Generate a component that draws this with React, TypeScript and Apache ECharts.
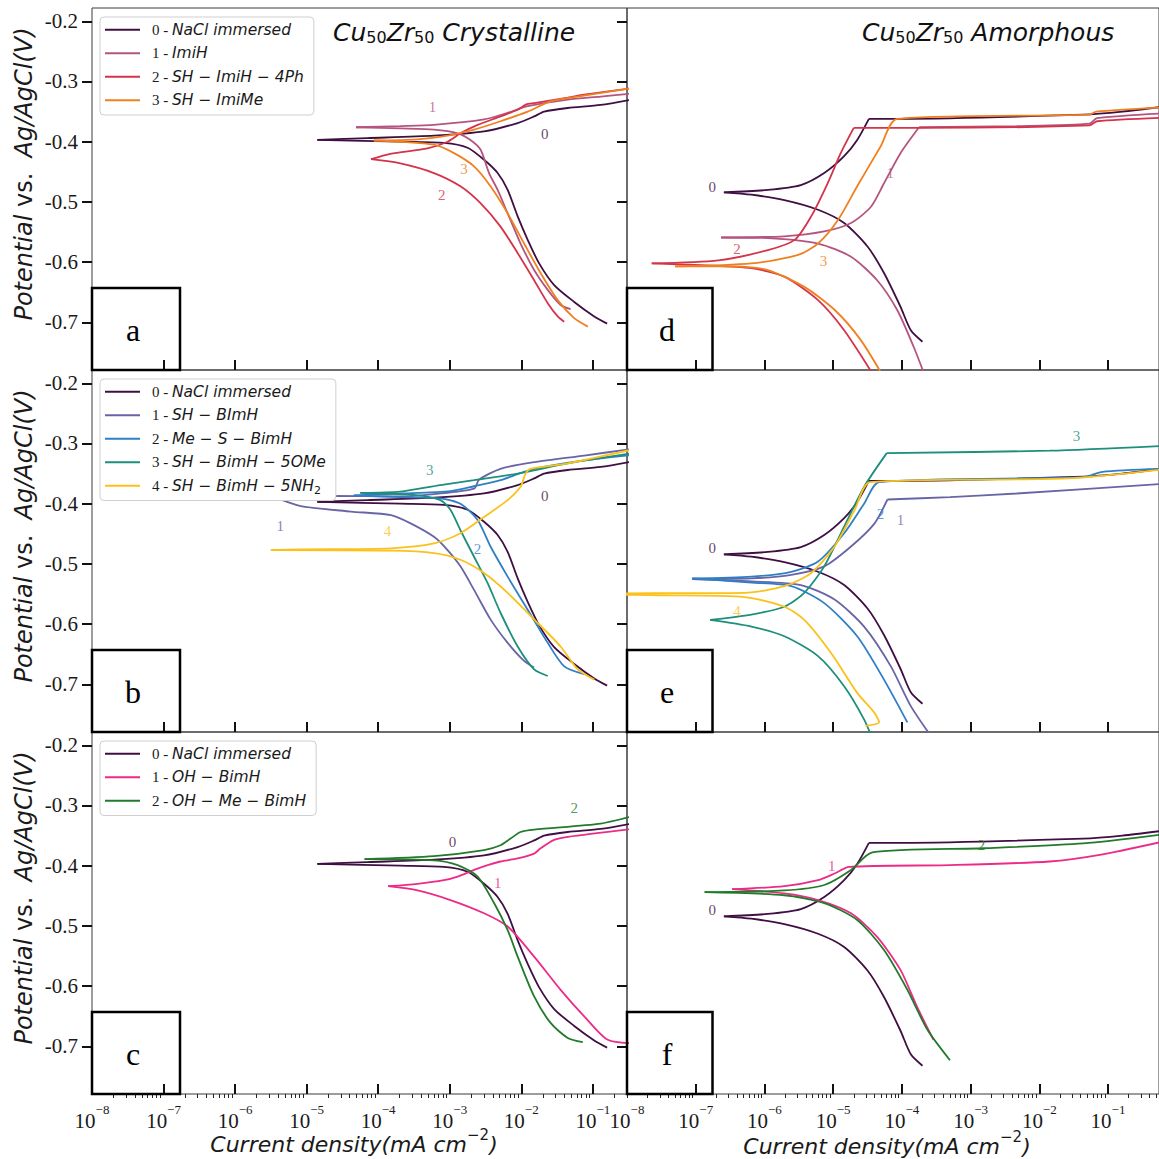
import React, { useEffect, useRef } from "react";
import * as echarts from "echarts";

// Each curve: [log10(current density / mA cm^-2), potential vs Ag/AgCl (V)],
// ordered from the cathodic end, through Ecorr (lowest current), to the anodic end.

// ---- Panel a (crystalline) ----
const naclLeft = [
  [-0.8, -0.702], [-0.98, -0.69], [-1.26, -0.666], [-1.54, -0.638], [-1.75, -0.602], [-1.91, -0.563],
  [-2.05, -0.524], [-2.19, -0.48], [-2.33, -0.452], [-2.52, -0.43], [-2.75, -0.41], [-3.08, -0.402],
  [-3.69, -0.4], [-4.85, -0.397],
  [-4.15, -0.394], [-3.22, -0.39], [-2.52, -0.383], [-2.05, -0.369], [-1.82, -0.358], [-1.68, -0.35],
  [-1.35, -0.344], [-0.89, -0.339], [-0.45, -0.33],
];
const imihLeft = [
  [-1.31, -0.678], [-1.45, -0.671], [-1.63, -0.646], [-1.82, -0.613], [-2.01, -0.569], [-2.19, -0.519],
  [-2.33, -0.48], [-2.45, -0.452], [-2.57, -0.413], [-2.71, -0.397], [-2.89, -0.386], [-3.22, -0.38],
  [-3.69, -0.378], [-4.31, -0.376],
  [-3.69, -0.374], [-3.22, -0.372], [-2.52, -0.363], [-2.19, -0.352], [-1.91, -0.341], [-1.35, -0.33],
  [-0.89, -0.325], [-0.45, -0.32],
];
const sh4phLeft = [
  [-1.4, -0.699], [-1.49, -0.69], [-1.63, -0.668], [-1.82, -0.63], [-2.05, -0.585], [-2.29, -0.541],
  [-2.57, -0.502], [-2.85, -0.474], [-3.22, -0.452], [-3.69, -0.436], [-4.1, -0.429],
  [-3.83, -0.42], [-3.31, -0.411], [-3.03, -0.4], [-2.85, -0.386], [-2.61, -0.372], [-2.29, -0.358],
  [-2.05, -0.347], [-1.93, -0.338], [-1.82, -0.336], [-1.35, -0.327], [-1.12, -0.322], [-0.45, -0.311],
];
const imimeLeft = [
  [-1.07, -0.707], [-1.26, -0.693], [-1.49, -0.663], [-1.73, -0.618], [-1.96, -0.569], [-2.19, -0.519],
  [-2.43, -0.474], [-2.66, -0.441], [-2.94, -0.419], [-3.22, -0.405], [-3.69, -0.4], [-4.06, -0.398],
  [-3.45, -0.396], [-2.99, -0.389], [-2.66, -0.38], [-2.29, -0.366], [-1.91, -0.35], [-1.59, -0.333],
  [-1.21, -0.325], [-0.45, -0.311],
];

// ---- Panel d (amorphous) ----
const naclRight = [
  [-3.7, -0.732], [-3.87, -0.713], [-4.02, -0.674], [-4.26, -0.618], [-4.5, -0.574], [-4.84, -0.535],
  [-5.22, -0.513], [-5.71, -0.497], [-6.19, -0.488], [-6.59, -0.484],
  [-5.95, -0.48], [-5.47, -0.472], [-5.13, -0.452], [-4.84, -0.424], [-4.65, -0.397], [-4.48, -0.362],
  [-4.02, -0.362], [-1.36, -0.355], [-0.79, -0.35], [-0.2, -0.342],
];
const imihRight = [
  [-3.66, -0.79], [-3.83, -0.74], [-4.07, -0.679], [-4.36, -0.63], [-4.74, -0.591], [-5.22, -0.569],
  [-5.95, -0.56], [-6.63, -0.559],
  [-5.71, -0.557], [-5.13, -0.549], [-4.74, -0.535], [-4.45, -0.508], [-4.26, -0.469], [-4.02, -0.419],
  [-3.75, -0.376], [-2.33, -0.374], [-1.27, -0.37], [-1.16, -0.361], [-0.2, -0.353],
];
const sh4phRight = [
  [-4.4, -0.79], [-4.84, -0.713], [-5.22, -0.663], [-5.71, -0.624], [-6.19, -0.61], [-6.91, -0.605],
  [-7.64, -0.602],
  [-6.67, -0.597], [-5.95, -0.58], [-5.56, -0.563], [-5.32, -0.524], [-5.08, -0.469], [-4.89, -0.419],
  [-4.7, -0.377], [-3.78, -0.377], [-1.27, -0.373], [-1.16, -0.366], [-0.2, -0.36],
];
const imimeRight = [
  [-4.27, -0.79], [-4.6, -0.729], [-4.98, -0.679], [-5.42, -0.641], [-5.95, -0.613], [-6.43, -0.607],
  [-7.3, -0.607],
  [-6.19, -0.602], [-5.51, -0.588], [-5.22, -0.569], [-4.93, -0.53], [-4.65, -0.474], [-4.31, -0.408],
  [-4.07, -0.362], [-1.27, -0.355], [-1.17, -0.35], [-0.2, -0.343],
];

// ---- Panel b (crystalline) ----
const bimhLeft = [
  [-1.82, -0.672], [-1.96, -0.661], [-2.19, -0.631], [-2.43, -0.592], [-2.66, -0.543], [-2.85, -0.504],
  [-3.03, -0.477], [-3.22, -0.455], [-3.54, -0.433], [-3.82, -0.419], [-4.38, -0.413], [-5.08, -0.404],
  [-5.43, -0.39],
  [-4.66, -0.387], [-3.7, -0.388], [-3.22, -0.384], [-2.66, -0.375], [-2.59, -0.36], [-2.29, -0.342],
  [-1.82, -0.331], [-1.12, -0.32], [-0.45, -0.309],
];
const mesLeft = [
  [-1.12, -0.683], [-1.4, -0.67], [-1.63, -0.631], [-1.91, -0.576], [-2.19, -0.521], [-2.43, -0.471],
  [-2.61, -0.427], [-2.85, -0.4], [-3.13, -0.391], [-3.69, -0.389], [-4.34, -0.386],
  [-3.69, -0.383], [-2.99, -0.379], [-2.66, -0.371], [-2.29, -0.361], [-2.1, -0.353], [-1.82, -0.342],
  [-1.12, -0.328], [-0.45, -0.319],
];
const omeLeft = [
  [-1.63, -0.686], [-1.82, -0.675], [-2.05, -0.637], [-2.29, -0.581], [-2.47, -0.532], [-2.66, -0.488],
  [-2.85, -0.444], [-2.99, -0.41], [-3.13, -0.394], [-3.45, -0.386], [-4.25, -0.382],
  [-3.69, -0.38], [-3.13, -0.369], [-2.66, -0.361], [-2.05, -0.35], [-1.35, -0.333], [-0.45, -0.316],
];
const nh2Left = [
  [-0.98, -0.692], [-1.21, -0.675], [-1.45, -0.637], [-1.82, -0.592], [-2.19, -0.548], [-2.52, -0.515],
  [-2.85, -0.493], [-3.22, -0.482], [-3.82, -0.478], [-5.5, -0.477],
  [-5.08, -0.476], [-3.82, -0.474], [-3.22, -0.466], [-2.85, -0.449], [-2.52, -0.422], [-2.19, -0.394],
  [-2.01, -0.372], [-1.94, -0.35], [-1.87, -0.342], [-1.35, -0.333], [-0.45, -0.31],
];

// ---- Panel e (amorphous) ----
const bimhRight = [
  [-3.55, -0.79], [-3.87, -0.736], [-4.16, -0.67], [-4.55, -0.604], [-4.98, -0.559], [-5.47, -0.535],
  [-6.19, -0.529], [-7.05, -0.525],
  [-6.19, -0.524], [-5.61, -0.518], [-5.13, -0.504], [-4.74, -0.471], [-4.4, -0.433], [-4.21, -0.393],
  [-3.3, -0.389], [-2.33, -0.383], [-0.2, -0.367],
];
const mesRight = [
  [-3.92, -0.763], [-4.26, -0.692], [-4.65, -0.62], [-5.13, -0.565], [-5.61, -0.537], [-6.19, -0.531],
  [-7.05, -0.524],
  [-6.19, -0.521], [-5.61, -0.513], [-5.22, -0.496], [-4.84, -0.449], [-4.55, -0.4], [-4.33, -0.364],
  [-1.36, -0.356], [-1.08, -0.347], [-0.2, -0.342],
];
const omeRight = [
  [-4.43, -0.79], [-4.55, -0.758], [-4.84, -0.703], [-5.22, -0.653], [-5.71, -0.62], [-6.19, -0.604],
  [-6.79, -0.593],
  [-6.19, -0.584], [-5.71, -0.571], [-5.42, -0.548], [-5.13, -0.504], [-4.84, -0.438], [-4.55, -0.372],
  [-4.22, -0.316], [-1.85, -0.312], [-0.2, -0.304],
];
const nh2Right = [
  [-4.53, -0.769], [-4.33, -0.763], [-4.4, -0.747], [-4.65, -0.714], [-5.03, -0.648], [-5.42, -0.593],
  [-5.71, -0.571], [-6.29, -0.555], [-7.5, -0.552], [-8.3, -0.551],
  [-8.3, -0.549], [-6.29, -0.548], [-5.71, -0.537], [-5.32, -0.515], [-4.98, -0.471], [-4.69, -0.411],
  [-4.46, -0.364], [-1.61, -0.358], [-0.2, -0.343],
];

// ---- Panel c (crystalline) ----
const ohLeft = [
  [-0.4, -0.695], [-0.79, -0.689], [-1.12, -0.65], [-1.45, -0.606], [-1.82, -0.551], [-2.19, -0.501],
  [-2.52, -0.479], [-2.99, -0.457], [-3.45, -0.441], [-3.86, -0.434],
  [-3.45, -0.43], [-3.08, -0.424], [-2.89, -0.418], [-2.66, -0.407], [-2.47, -0.399], [-2.29, -0.393],
  [-2.05, -0.388], [-1.82, -0.38], [-1.73, -0.371], [-1.54, -0.357], [-1.35, -0.352], [-0.45, -0.339],
];
const ohmeLeft = [
  [-1.14, -0.693], [-1.35, -0.686], [-1.59, -0.661], [-1.82, -0.617], [-2.05, -0.551], [-2.19, -0.507],
  [-2.38, -0.462], [-2.61, -0.418], [-2.89, -0.399], [-3.22, -0.391], [-4.19, -0.389],
  [-3.22, -0.384], [-2.52, -0.374], [-2.29, -0.366], [-2.15, -0.355], [-2.01, -0.344], [-1.82, -0.34],
  [-0.89, -0.33], [-0.45, -0.318],
];

// ---- Panel f (amorphous) ----
const ohRight = [
  [-3.54, -0.689], [-3.78, -0.634], [-4.02, -0.573], [-4.36, -0.518], [-4.74, -0.479], [-5.22, -0.457],
  [-5.71, -0.446], [-6.47, -0.439],
  [-5.71, -0.434], [-5.22, -0.424], [-4.98, -0.413], [-4.77, -0.402], [-3.3, -0.399], [-1.85, -0.393],
  [-1.12, -0.382], [-0.2, -0.36],
];
const ohmeRight = [
  [-3.3, -0.723], [-3.63, -0.672], [-3.92, -0.606], [-4.26, -0.54], [-4.65, -0.49], [-5.13, -0.462],
  [-5.71, -0.449], [-6.87, -0.444],
  [-5.71, -0.441], [-5.13, -0.432], [-4.74, -0.407], [-4.43, -0.378], [-2.81, -0.371], [-1.36, -0.363],
  [-0.2, -0.348],
];

// Inline curve numbers: [text, log10 current, potential, curve key]
const annA = [["1", -3.24, -0.342, "imih"], ["0", -1.67, -0.387, "nacl"], ["3", -2.8, -0.445, "imime"], ["2", -3.11, -0.488, "sh4ph"]];
const annD = [["0", -6.76, -0.475, "nacl"], ["1", -4.17, -0.452, "imih"], ["2", -6.4, -0.578, "sh4ph"], ["3", -5.14, -0.598, "imime"]];
const annB = [["3", -3.28, -0.344, "ome"], ["1", -5.37, -0.437, "bimh"], ["4", -3.87, -0.445, "nh2"], ["2", -2.61, -0.475, "mes"], ["0", -1.67, -0.387, "nacl"]];
const annE = [["3", -1.46, -0.288, "ome"], ["0", -6.76, -0.474, "nacl"], ["2", -4.31, -0.417, "mes"], ["1", -4.02, -0.427, "bimh"], ["4", -6.4, -0.578, "nh2"]];
const annC = [["0", -2.96, -0.361, "nacl"], ["2", -1.26, -0.304, "ohme"], ["1", -2.33, -0.429, "oh"]];
const annF = [["1", -5.02, -0.401, "oh"], ["2", -2.84, -0.366, "ohme"], ["0", -6.76, -0.473, "nacl"]];

const X_TICKS = [-8, -7, -6, -5, -4, -3, -2, -1];
const Y_TICKS = [-0.7, -0.6, -0.5, -0.4, -0.3, -0.2];
const Y_MIN = -0.779;
const Y_MAX = -0.178;
const X_MIN = -8;
const X_MAX_LEFT = -0.522;
const X_MAX_RIGHT = -0.258;

const COLORS: Record<string, string> = {
  nacl: "#3f0e42",
  imih: "#b5557f",
  sh4ph: "#d5334a",
  imime: "#f0801f",
  bimh: "#6865a6",
  mes: "#2f7fc6",
  ome: "#1d8f7c",
  nh2: "#fbc11b",
  oh: "#ec2b87",
  ohme: "#227a2b",
};

const M = "\u2212";
const LEGEND_TEXT: Record<string, string> = {
  nacl: "{n|0 - }{t|NaCl immersed}",
  imih: "{n|1 - }{t|ImiH}",
  sh4ph: `{n|2 - }{t|SH ${M} ImiH ${M} 4Ph}`,
  imime: `{n|3 - }{t|SH ${M} ImiMe}`,
  bimh: `{n|1 - }{t|SH ${M} BImH}`,
  mes: `{n|2 - }{t|Me ${M} S ${M} BimH}`,
  ome: `{n|3 - }{t|SH ${M} BimH ${M} 5OMe}`,
  nh2: `{n|4 - }{t|SH ${M} BimH ${M} 5NH}{sub|2}`,
  oh: `{n|1 - }{t|OH ${M} BimH}`,
  ohme: `{n|2 - }{t|OH ${M} Me ${M} BimH}`,
};

const PANELS = [
  { id: "a", row: 0, col: 0, legend: true, ann: annA,
    curves: [["nacl", naclLeft], ["imih", imihLeft], ["sh4ph", sh4phLeft], ["imime", imimeLeft]] },
  { id: "b", row: 1, col: 0, legend: true, ann: annB,
    curves: [["nacl", naclLeft], ["bimh", bimhLeft], ["mes", mesLeft], ["ome", omeLeft], ["nh2", nh2Left]] },
  { id: "c", row: 2, col: 0, legend: true, ann: annC,
    curves: [["nacl", naclLeft], ["oh", ohLeft], ["ohme", ohmeLeft]] },
  { id: "d", row: 0, col: 1, legend: false, ann: annD,
    curves: [["nacl", naclRight], ["imih", imihRight], ["sh4ph", sh4phRight], ["imime", imimeRight]] },
  { id: "e", row: 1, col: 1, legend: false, ann: annE,
    curves: [["nacl", naclRight], ["bimh", bimhRight], ["mes", mesRight], ["ome", omeRight], ["nh2", nh2Right]] },
  { id: "f", row: 2, col: 1, legend: false, ann: annF,
    curves: [["nacl", naclRight], ["oh", ohRight], ["ohme", ohmeRight]] },
];

const SERIF = "Liberation Serif";
const SANS = "DejaVu Sans";
const INK = "#1a1a1a";
const PANEL_H = 362;
const PANEL_W = 535;
const TOP0 = 8;

// split a polarization curve at Ecorr (lowest current) into cathodic and anodic branches;
// for the amorphous panels also split where the passive plateau starts (sharp corner)
function splitBranches(data: number[][], sharpCorners: boolean) {
  let tip = 0;
  data.forEach((d, i) => { if (d[0] < data[tip][0]) tip = i; });
  const out: number[][][] = [data.slice(0, tip + 1)];
  const anodic = data.slice(tip);
  if (!sharpCorners) {
    out.push(anodic);
    return out;
  }
  let start = 0;
  for (let i = 1; i < anodic.length - 1; i++) {
    const dx = anodic[i + 1][0] - anodic[i][0];
    const dy = Math.abs(anodic[i + 1][1] - anodic[i][1]);
    const dyPrev = Math.abs(anodic[i][1] - anodic[i - 1][1]);
    if (dx > 0.4 && dy < 0.006 && dyPrev > 0.02) {
      out.push(anodic.slice(start, i + 1));
      start = i;
    }
  }
  out.push(anodic.slice(start));
  return out;
}

function buildOption() {
  const grid: any[] = [];
  const xAxis: any[] = [];
  const yAxis: any[] = [];
  const series: any[] = [];
  const legend: any[] = [];
  const graphic: any[] = [];

  PANELS.forEach((p, i) => {
    const top = TOP0 + p.row * PANEL_H;
    const left = p.col === 0 ? 92 : 627;
    const xMax = p.col === 0 ? X_MAX_LEFT : X_MAX_RIGHT;
    grid.push({ left, top, width: PANEL_W, height: PANEL_H, show: true, borderColor: "#3a3a3a", borderWidth: 1, backgroundColor: "transparent" });

    const xi = xAxis.length;
    xAxis.push({
      type: "value", gridIndex: i, min: X_MIN, max: xMax, interval: 1, position: "bottom",
      axisLine: { show: false },
      axisTick: { show: true, inside: true, length: 10, lineStyle: { color: "#111", width: 2 }, customValues: X_TICKS },
      axisLabel: {
        show: p.row === 2, customValues: X_TICKS, margin: 9,
        formatter: (v: number) => `{b|10}{s|${M}${Math.abs(Math.round(v))}}`,
        rich: {
          b: { fontFamily: SERIF, fontSize: 21, lineHeight: 28, verticalAlign: "bottom", color: INK },
          s: { fontFamily: SERIF, fontSize: 13, lineHeight: 10, verticalAlign: "top", color: INK },
        },
      },
      splitLine: { show: false },
    });
    if (p.row === 2) {
      const minor: number[] = [];
      for (let d = -8; d < 0; d++) for (let k = 2; k <= 9; k++) {
        const v = d + Math.log10(k);
        if (v < xMax) minor.push(v);
      }
      xAxis.push({
        type: "value", gridIndex: i, min: X_MIN, max: xMax, interval: 1, position: "bottom",
        axisLine: { show: false },
        axisTick: { show: true, inside: false, length: 4, lineStyle: { color: "#222", width: 1 }, customValues: minor },
        axisLabel: { show: false },
        splitLine: { show: false },
      });
    }
    const yi = yAxis.length;
    yAxis.push({
      type: "value", gridIndex: i, min: Y_MIN, max: Y_MAX,
      axisLine: { show: false },
      axisTick: { show: true, inside: false, length: 10, lineStyle: { color: "#111", width: 2 }, customValues: Y_TICKS },
      axisLabel: {
        show: p.col === 0, customValues: Y_TICKS, margin: 14,
        formatter: (v: number) => v.toFixed(1),
        fontFamily: SERIF, fontSize: 21, color: INK,
      },
      splitLine: { show: false },
    });

    const names: string[] = [];
    p.curves.forEach(([key, data]: any) => {
      const name = `${p.id}:${key}`;
      names.push(name);
      splitBranches(data, p.col === 1).forEach((branch) => {
        series.push({
          type: "line", name, xAxisIndex: xi, yAxisIndex: yi,
          data: branch.map(([x, y]: number[]) => [x, y]),
          showSymbol: false, symbol: "none", smooth: 0.25, clip: true,
          color: COLORS[key], itemStyle: { color: COLORS[key] },
          lineStyle: { color: COLORS[key], width: 1.8 }, z: 2,
        });
      });
    });
    series.push({
      type: "scatter", name: `${p.id}:labels`, xAxisIndex: xi, yAxisIndex: yi, silent: true,
      symbolSize: 0, z: 3,
      data: p.ann.map(([t, x, y, k]: any) => ({ value: [x, y], name: t, label: { color: COLORS[k] } })),
      label: { show: true, position: "inside", formatter: "{b}", fontFamily: SERIF, fontSize: 15 },
    });

    if (p.legend) {
      legend.push({
        show: true, orient: "vertical", left: 100, top: top + 9,
        data: names, icon: "rect", itemWidth: 35, itemHeight: 2, itemGap: 4,
        padding: [3, 10, 5, 5], borderColor: "#cfcfcf", borderWidth: 1, borderRadius: 4,
        backgroundColor: "#fff", selectedMode: false,
        formatter: (name: string) => LEGEND_TEXT[name.split(":")[1]],
        textStyle: {
          lineHeight: 19.5,
          rich: {
            n: { fontFamily: SERIF, fontSize: 15, color: INK, padding: [0, 0, 0, 7], lineHeight: 19.5 },
            t: { fontFamily: SANS, fontStyle: "italic", fontSize: 15.5, color: INK, lineHeight: 19.5 },
            sub: { fontFamily: SANS, fontSize: 11, color: INK, lineHeight: 12, verticalAlign: "bottom" },
          },
        },
      });
    }

    // corner box with panel letter
    const boxW = p.col === 0 ? 88 : 85.5;
    graphic.push({
      type: "rect", z: 10,
      shape: { x: left, y: top + 280, width: boxW, height: 82 },
      style: { fill: "none", stroke: "#000", lineWidth: 2.5 },
    });
    graphic.push({
      type: "text", z: 10, x: p.col === 0 ? 133 : 667, y: top + 322,
      style: { text: p.id, fontFamily: SERIF, fontSize: 32, fill: "#000", align: "center", verticalAlign: "middle", textAlign: "center", textVerticalAlign: "middle" },
    });

    if (p.col === 0) {
      graphic.push({
        type: "text", z: 10, x: 24, y: top + 166, rotation: Math.PI / 2,
        style: {
          text: "{i|Potential} {n|vs.}  {i|Ag/AgCl(V)}",
          rich: {
            i: { fontFamily: SANS, fontStyle: "italic", fontSize: 24, fill: INK },
            n: { fontFamily: SANS, fontSize: 24, fill: INK },
          },
          fontFamily: SANS, fontSize: 24, fill: INK,
          align: "center", verticalAlign: "middle", textAlign: "center", textVerticalAlign: "middle",
        },
      });
    }
  });

  const xTitle = (x: number, y: number) => ({
    type: "text", z: 10, x, y,
    style: {
      text: `{i|Current density(mA cm}{s|${M}2}{i|)}`,
      rich: {
        i: { fontFamily: SANS, fontStyle: "italic", fontSize: 22, fill: INK, lineHeight: 28, verticalAlign: "bottom" },
        s: { fontFamily: SANS, fontSize: 15, fill: INK, lineHeight: 14, verticalAlign: "top" },
      },
      align: "center", verticalAlign: "middle", textAlign: "center", textVerticalAlign: "middle",
    },
  });
  graphic.push(xTitle(354, 1141));
  graphic.push(xTitle(887, 1143));

  const title = (x: number, word: string) => ({
    type: "text", z: 10, x, y: 30,
    style: {
      text: `{i|Cu}{s|50}{i|Zr}{s|50}{i| ${word}}`,
      rich: {
        i: { fontFamily: SANS, fontStyle: "italic", fontSize: 25, fill: "#111", lineHeight: 30, verticalAlign: "bottom" },
        s: { fontFamily: SANS, fontSize: 16, fill: "#111", lineHeight: 19, verticalAlign: "bottom" },
      },
      align: "left", verticalAlign: "middle", textAlign: "left", textVerticalAlign: "middle",
    },
  });
  graphic.push(title(333, "Crystalline"));
  graphic.push(title(862, "Amorphous"));

  return {
    animation: false,
    backgroundColor: "#fff",
    grid, xAxis, yAxis, series, legend, graphic,
  };
}

export default function App() {
  const ref = useRef<HTMLDivElement>(null);
  useEffect(() => {
    document.body.style.margin = "0";
    const chart = echarts.init(ref.current!, null, { renderer: "svg" });
    chart.setOption(buildOption() as any);
    return () => chart.dispose();
  }, []);
  return <div ref={ref} style={{ width: 1159, height: 1159, overflow: "hidden" }} />;
}
